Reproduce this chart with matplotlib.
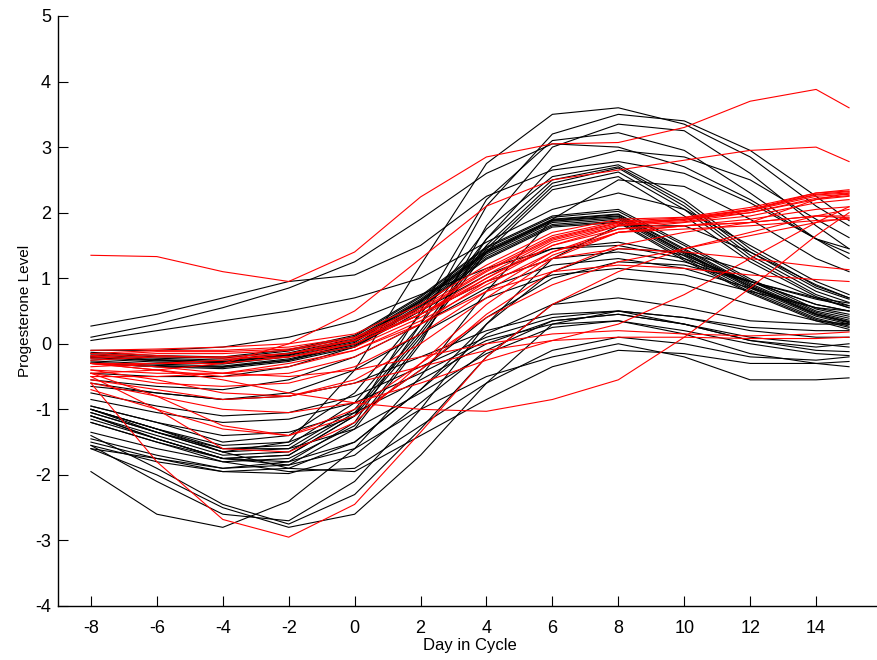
import matplotlib
matplotlib.use('Agg')
import matplotlib.pyplot as plt

# sample days for every subject curve
days = [-8, -6, -4, -2, 0, 2, 4, 6, 8, 10, 12, 14, 15]

# progesterone curves, one list per subject (black group)
black_curves = [
    # high peakers
    [-1.0, -1.35, -1.65, -1.5, -0.4, 1.2, 2.75, 3.5, 3.6, 3.35, 2.85, 2.1, 1.8],
    [-1.6, -1.75, -1.9, -1.8, -1.2, 0.3, 2.1, 3.2, 3.5, 3.4, 2.95, 2.25, 1.88],
    [-1.45, -1.7, -1.9, -1.85, -1.3, 0.0, 1.8, 3.0, 3.35, 3.25, 2.6, 1.8, 1.45],
    [-1.1, -1.45, -1.75, -1.7, -1.1, 0.5, 2.2, 3.1, 3.22, 2.95, 2.3, 1.6, 1.3],
    [-1.35, -1.6, -1.8, -1.75, -1.25, 0.05, 1.6, 2.7, 2.95, 2.85, 2.5, 1.9, 1.62],
    # starting high
    [0.27, 0.45, 0.7, 0.95, 1.05, 1.5, 2.25, 2.65, 2.78, 2.6, 2.15, 1.6, 1.38],
    [0.1, 0.3, 0.55, 0.85, 1.25, 1.9, 2.6, 3.05, 3.0, 2.7, 2.2, 1.6, 1.45],
    [0.05, 0.2, 0.35, 0.5, 0.7, 1.0, 1.55, 2.05, 2.3, 2.05, 1.5, 0.95, 0.75],
    # peak near 2.7
    [-1.0, -1.3, -1.6, -1.55, -0.9, 0.3, 1.6, 2.5, 2.7, 2.15, 1.4, 0.85, 0.68],
    [-1.05, -1.35, -1.65, -1.6, -1.0, 0.2, 1.5, 2.45, 2.68, 2.1, 1.35, 0.8, 0.63],
    [-1.1, -1.4, -1.7, -1.65, -1.05, 0.15, 1.45, 2.4, 2.62, 2.05, 1.3, 0.75, 0.58],
    [-1.15, -1.45, -1.75, -1.7, -1.1, 0.1, 1.4, 2.35, 2.55, 1.95, 1.25, 0.72, 0.55],
    [-0.95, -1.2, -1.5, -1.4, -0.75, 0.45, 1.75, 2.55, 2.73, 2.2, 1.45, 0.88, 0.7],
    # dense band
    [-0.2, -0.25, -0.28, -0.17, 0.05, 0.65, 1.4, 1.88, 1.95, 1.4, 0.88, 0.45, 0.33],
    [-0.17, -0.22, -0.25, -0.14, 0.08, 0.68, 1.43, 1.9, 1.98, 1.45, 0.92, 0.48, 0.36],
    [-0.23, -0.28, -0.31, -0.2, 0.02, 0.62, 1.37, 1.85, 1.92, 1.37, 0.85, 0.42, 0.3],
    [-0.15, -0.2, -0.22, -0.11, 0.11, 0.71, 1.46, 1.93, 2.02, 1.5, 0.96, 0.5, 0.39],
    [-0.26, -0.31, -0.34, -0.23, -0.01, 0.59, 1.34, 1.82, 1.9, 1.34, 0.82, 0.39, 0.27],
    [-0.19, -0.24, -0.27, -0.16, 0.06, 0.66, 1.41, 1.89, 1.97, 1.43, 0.9, 0.46, 0.34],
    [-0.28, -0.33, -0.36, -0.25, -0.03, 0.57, 1.31, 1.8, 1.87, 1.3, 0.79, 0.37, 0.25],
    [-0.13, -0.18, -0.2, -0.09, 0.13, 0.73, 1.48, 1.95, 2.05, 1.53, 0.99, 0.53, 0.42],
    [-0.21, -0.26, -0.29, -0.18, 0.04, 0.64, 1.39, 1.87, 1.94, 1.39, 0.87, 0.44, 0.32],
    [-0.3, -0.35, -0.38, -0.27, -0.05, 0.55, 1.29, 1.78, 1.85, 1.27, 0.77, 0.35, 0.22],
    # middle group
    [-0.45, -0.5, -0.5, -0.35, -0.05, 0.5, 1.05, 1.45, 1.55, 1.35, 0.95, 0.6, 0.5],
    [-0.55, -0.65, -0.7, -0.55, -0.2, 0.3, 0.85, 1.2, 1.3, 1.15, 0.85, 0.55, 0.45],
    [-0.1, -0.1, -0.05, 0.1, 0.35, 0.75, 1.15, 1.45, 1.5, 1.3, 0.95, 0.6, 0.5],
    [-0.65, -0.75, -0.85, -0.75, -0.4, 0.15, 0.7, 1.05, 1.15, 1.05, 0.8, 0.55, 0.5],
    [-1.0, -1.3, -1.55, -1.5, -1.1, -0.4, 0.4, 1.0, 1.25, 1.2, 0.95, 0.68, 0.58],
    [-0.3, -0.35, -0.35, -0.25, 0.0, 0.45, 0.95, 1.3, 1.4, 1.25, 0.95, 0.7, 0.62],
    [-1.2, -1.5, -1.75, -1.8, -1.5, -0.7, 0.3, 1.1, 1.45, 1.4, 1.1, 0.7, 0.55],
    # low group
    [-0.75, -0.95, -1.1, -1.05, -0.8, -0.35, 0.1, 0.4, 0.5, 0.4, 0.2, 0.1, 0.1],
    [-0.95, -1.2, -1.4, -1.35, -1.05, -0.55, 0.0, 0.35, 0.45, 0.3, 0.05, -0.1, -0.12],
    [-1.05, -1.35, -1.6, -1.6, -1.3, -0.75, -0.15, 0.25, 0.35, 0.15, -0.15, -0.3, -0.35],
    [-1.1, -1.45, -1.75, -1.85, -1.6, -1.0, -0.5, -0.2, 0.0, -0.2, -0.55, -0.55, -0.52],
    [-1.2, -1.5, -1.8, -1.95, -1.9, -1.25, -0.6, -0.1, 0.1, 0.0, -0.2, -0.25, -0.2],
    [-1.0, -1.3, -1.65, -1.9, -1.95, -1.4, -0.85, -0.35, -0.1, -0.15, -0.3, -0.3, -0.27],
    [-0.6, -0.75, -0.85, -0.8, -0.6, -0.2, 0.2, 0.45, 0.5, 0.4, 0.25, 0.2, 0.2],
    [-1.5, -1.75, -1.95, -1.98, -1.7, -0.9, -0.1, 0.35, 0.45, 0.3, 0.05, -0.05, 0.0],
    [-1.55, -1.8, -1.95, -1.9, -1.5, -0.7, 0.15, 0.6, 0.7, 0.55, 0.35, 0.3, 0.3],
    [-0.85, -1.05, -1.2, -1.15, -0.9, -0.45, 0.05, 0.3, 0.35, 0.2, 0.0, -0.15, -0.18],
    # deep dips
    [-1.95, -2.6, -2.8, -2.4, -1.6, -0.5, 0.8, 1.9, 2.5, 2.4, 1.9, 1.3, 1.1],
    [-1.4, -1.9, -2.45, -2.75, -2.3, -1.3, -0.2, 0.6, 1.0, 0.9, 0.6, 0.35, 0.3],
    [-1.6, -2.0, -2.5, -2.8, -2.6, -1.7, -0.6, 0.3, 0.5, 0.3, 0.1, 0.0, -0.05],
    [-1.55, -2.1, -2.6, -2.7, -2.1, -1.0, 0.3, 1.3, 1.8, 1.8, 1.4, 0.9, 0.7],
]

# progesterone curves, one list per subject (red group)
red_curves = [
    [1.35, 1.33, 1.1, 0.95, 1.4, 2.24, 2.85, 3.05, 3.07, 3.3, 3.7, 3.88, 3.6],
    [-0.45, -0.4, -0.3, 0.0, 0.5, 1.3, 2.1, 2.5, 2.65, 2.8, 2.95, 3.0, 2.78],
    [-0.15, -0.1, -0.1, -0.05, 0.1, 0.55, 1.15, 1.65, 1.87, 1.92, 2.05, 2.3, 2.33],
    [-0.2, -0.15, -0.15, -0.1, 0.05, 0.5, 1.1, 1.6, 1.84, 1.9, 2.05, 2.27, 2.3],
    [-0.25, -0.2, -0.2, -0.15, 0.0, 0.45, 1.05, 1.58, 1.82, 1.88, 2.03, 2.25, 2.28],
    [-0.1, -0.08, -0.05, 0.0, 0.15, 0.6, 1.2, 1.7, 1.9, 1.93, 2.08, 2.3, 2.35],
    [-0.22, -0.18, -0.22, -0.2, -0.05, 0.4, 1.0, 1.55, 1.8, 1.86, 2.0, 2.22, 2.26],
    [-0.18, -0.12, -0.12, -0.08, 0.08, 0.52, 1.12, 1.62, 1.85, 1.9, 2.04, 2.28, 2.32],
    [-0.3, -0.3, -0.3, -0.2, 0.0, 0.45, 1.0, 1.5, 1.75, 1.8, 1.85, 1.95, 1.95],
    [-0.4, -0.45, -0.45, -0.35, -0.1, 0.35, 0.9, 1.4, 1.7, 1.75, 1.8, 1.88, 1.9],
    [-0.35, -0.3, -0.25, -0.15, 0.05, 0.45, 0.95, 1.3, 1.45, 1.4, 1.3, 1.18, 1.13],
    [-0.5, -0.5, -0.45, -0.3, -0.1, 0.3, 0.8, 1.1, 1.2, 1.15, 1.05, 0.98, 0.95],
    [-0.6, -0.8, -1.0, -1.05, -0.9, -0.6, -0.25, 0.05, 0.3, 0.75, 1.3, 1.85, 2.09],
    [-0.3, -0.4, -0.55, -0.75, -0.9, -1.0, -1.03, -0.85, -0.55, 0.1, 0.85, 1.65, 2.0],
    [-0.7, -1.0, -1.3, -1.4, -1.0, -0.3, 0.4, 0.9, 1.25, 1.45, 1.65, 1.85, 1.92],
    [-0.3, -0.35, -0.45, -0.5, -0.4, -0.2, 0.0, 0.15, 0.2, 0.15, 0.12, 0.15, 0.18],
    [-0.55, -0.7, -0.85, -0.8, -0.6, -0.35, -0.1, 0.05, 0.1, 0.1, 0.08, 0.08, 0.1],
    [-0.6, -1.8, -2.68, -2.95, -2.45, -1.35, -0.2, 0.6, 1.1, 1.45, 1.7, 1.95, 2.05],
    [-0.45, -0.8, -1.25, -1.4, -1.1, -0.4, 0.45, 1.1, 1.5, 1.7, 1.85, 2.2, 2.3],
    [-0.5, -1.0, -1.6, -1.65, -1.2, -0.3, 0.6, 1.3, 1.7, 1.8, 1.9, 2.05, 2.09],
    [-0.4, -0.55, -0.75, -0.8, -0.55, 0.0, 0.7, 1.35, 1.7, 1.8, 1.85, 1.95, 1.92],
    [-0.45, -0.6, -0.65, -0.6, -0.35, 0.15, 0.8, 1.4, 1.75, 1.85, 1.95, 2.15, 2.2],
    [-0.3, -0.4, -0.5, -0.45, -0.2, 0.3, 0.95, 1.5, 1.8, 1.9, 2.0, 2.2, 2.25],
]

x_ticks = [-8, -6, -4, -2, 0, 2, 4, 6, 8, 10, 12, 14]
y_ticks = [-4, -3, -2, -1, 0, 1, 2, 3, 4, 5]

plt.rcParams['font.family'] = ['Liberation Sans', 'DejaVu Sans']
plt.rcParams['axes.unicode_minus'] = False

fig = plt.figure(figsize=(8.77, 6.6), dpi=100)
ax = fig.add_axes([58 / 877, 54 / 660, 824 / 877, 590 / 660])

for vals in black_curves:
    ax.plot(days, vals, color='black', linewidth=0.8)
for vals in red_curves:
    ax.plot(days, vals, color='red', linewidth=0.8)

ax.set_xlim(-9, 16)
ax.set_ylim(-4, 5)
ax.set_xticks(x_ticks)
ax.set_yticks(y_ticks)
ax.spines['top'].set_visible(False)
ax.spines['right'].set_visible(False)
for side in ('left', 'bottom'):
    ax.spines[side].set_linewidth(1.0)
ax.tick_params(direction='in', length=7, width=0.8, labelsize=13)
ax.tick_params(axis='x', pad=10)
ax.tick_params(axis='y', pad=5)

ax.set_xlabel('Day in Cycle', fontsize=12, labelpad=1)
ax.set_ylabel('Progesterone Level', fontsize=11, labelpad=2)

fig.savefig('out.png', dpi=100)
